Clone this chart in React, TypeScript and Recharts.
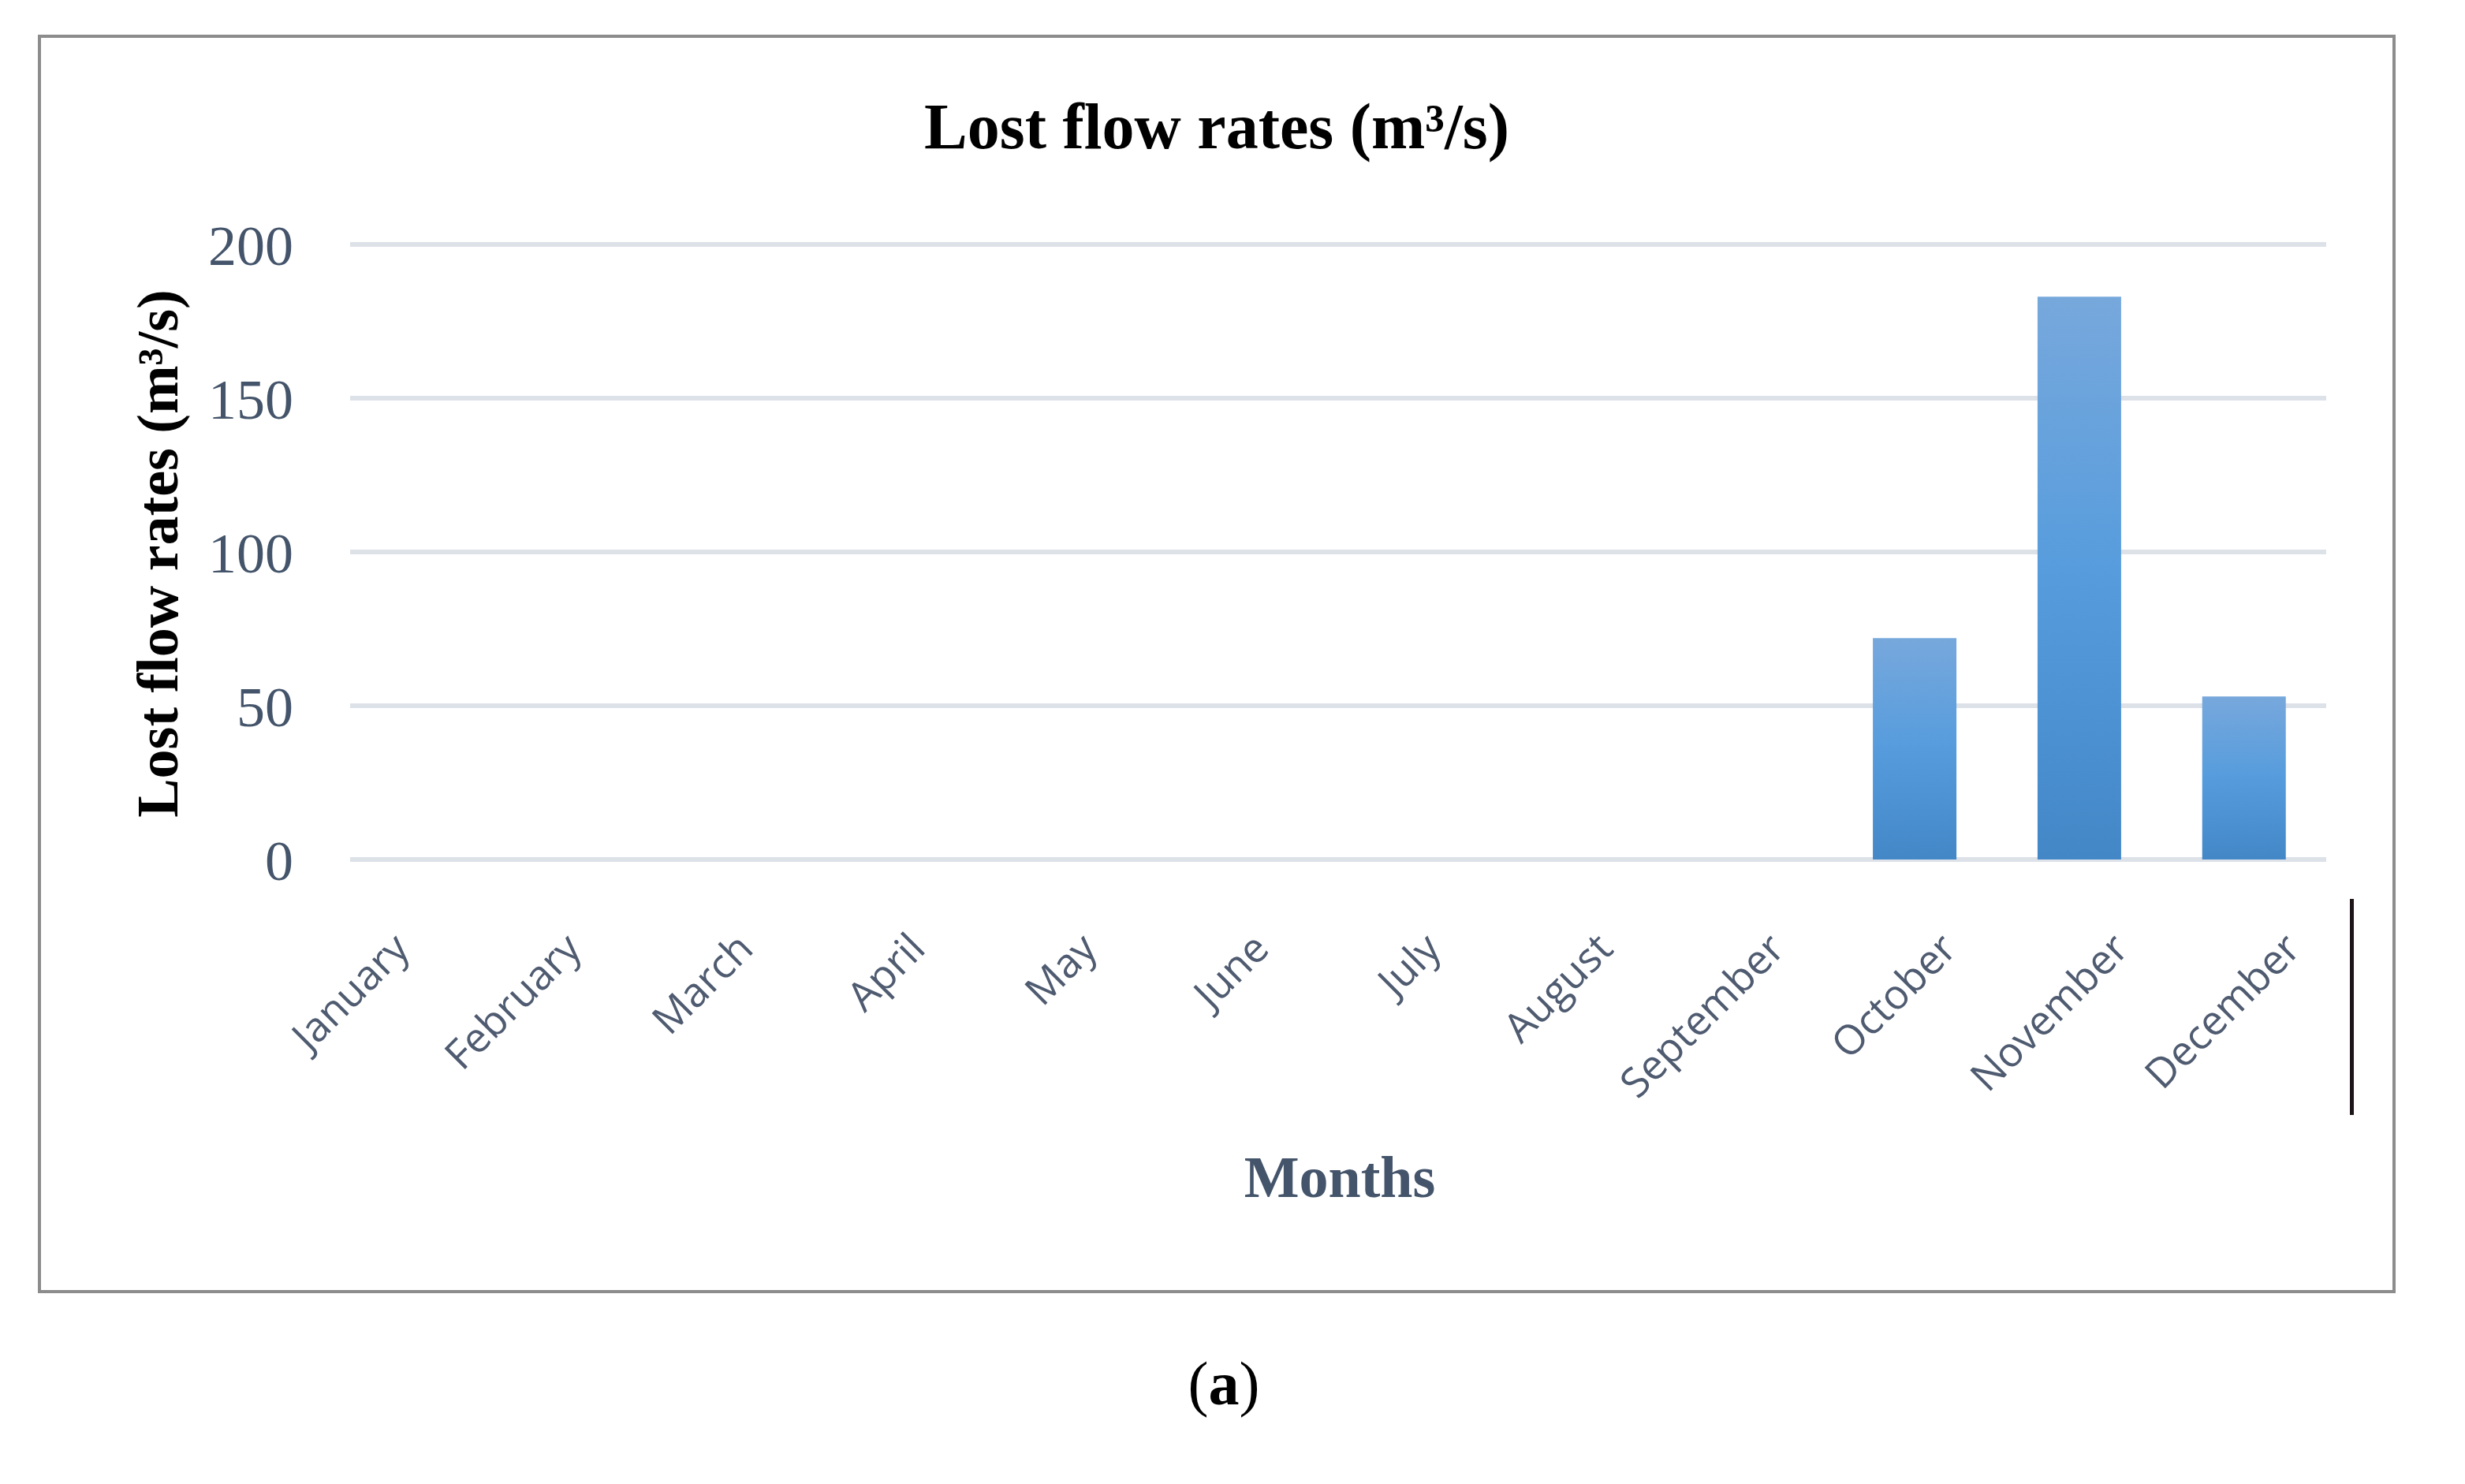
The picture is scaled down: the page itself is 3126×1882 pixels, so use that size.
import React from 'react';
import { BarChart, Bar, XAxis, YAxis, CartesianGrid } from 'recharts';

const months = [
  'January', 'February', 'March', 'April', 'May', 'June',
  'July', 'August', 'September', 'October', 'November', 'December',
];
const lostFlow = [0, 0, 0, 0, 0, 0, 0, 0, 0, 72, 183, 53];
const yTicks = [0, 50, 100, 150, 200];

const data = months.map((m, i) => ({ month: m, lost: lostFlow[i] }));

const W = 3126;
const H = 1882;
const PLOT_LEFT = 444;
const PLOT_RIGHT = 2950;
const PLOT_TOP = 310;
const PLOT_BOTTOM = 1090;
const X_AXIS_H = 320;

const serif = '"Liberation Serif", "Times New Roman", serif';
const slate = '#44546A';

// month labels in the source sit slightly spread out vs the bars
const MonthTick = (props: any) => {
  const { x, y, payload } = props;
  const mid = (PLOT_LEFT + PLOT_RIGHT) / 2;
  const tx = x + (x - mid) * 0.044 + 24;
  const ty = y + 116;
  return (
    <text
      x={tx}
      y={ty}
      transform={`rotate(-45 ${tx} ${ty})`}
      textAnchor="end"
      fontFamily='"Open Sans", sans-serif'
      fontSize={52}
      fill="#4f5b70"
    >
      {payload.value}
    </text>
  );
};

const App: React.FC = () => {
  return (
    <div style={{ position: 'absolute', left: 0, top: 0, width: W, height: H, background: '#fff' }}>
      <div
        style={{
          position: 'absolute',
          left: 48,
          top: 44,
          width: 2990,
          height: 1596,
          border: '4px solid #8c8c8c',
          boxSizing: 'border-box',
        }}
      />
      <div style={{ position: 'absolute', left: 0, top: 0 }}>
        <BarChart
          width={W}
          height={H}
          data={data}
          barCategoryGap="24.7%"
          margin={{
            top: PLOT_TOP,
            right: W - PLOT_RIGHT,
            left: 0,
            bottom: H - PLOT_BOTTOM - X_AXIS_H,
          }}
        >
          <defs>
            <linearGradient id="barFill" x1="0" y1="0" x2="0" y2="1">
              <stop offset="0%" stopColor="#77a8dc" />
              <stop offset="50%" stopColor="#569cdd" />
              <stop offset="100%" stopColor="#4387c7" />
            </linearGradient>
          </defs>
          <CartesianGrid vertical={false} stroke="#dde2e9" strokeWidth={6} />
          <XAxis
            dataKey="month"
            axisLine={false}
            tickLine={false}
            tickSize={0}
            tickMargin={0}
            height={X_AXIS_H}
            interval={0}
            tick={<MonthTick />}
          />
          <YAxis
            width={PLOT_LEFT}
            domain={[0, 200]}
            ticks={yTicks}
            axisLine={false}
            tickLine={false}
            tickSize={0}
            tickMargin={72}
            tick={{ fontFamily: serif, fontSize: 72, fill: slate }}
          />
          <Bar dataKey="lost" fill="url(#barFill)" isAnimationActive={false} />
        </BarChart>
      </div>
      <div
        style={{
          position: 'absolute',
          left: 0,
          width: 3086,
          top: 120,
          textAlign: 'center',
          fontFamily: serif,
          fontWeight: 'bold',
          fontSize: 82,
          color: '#000',
          lineHeight: 1,
        }}
      >
        Lost flow rates (m³/s)
      </div>
      <div
        style={{
          position: 'absolute',
          left: 200,
          top: 702,
          transform: 'translate(-50%, -50%) rotate(-90deg)',
          whiteSpace: 'nowrap',
          fontFamily: serif,
          fontWeight: 'bold',
          fontSize: 74,
          color: '#000',
          lineHeight: 1,
        }}
      >
        Lost flow rates (m³/s)
      </div>
      <div
        style={{
          position: 'absolute',
          left: 0,
          width: 3398,
          top: 1456,
          textAlign: 'center',
          fontFamily: serif,
          fontWeight: 'bold',
          fontSize: 74,
          color: slate,
          lineHeight: 1,
        }}
      >
        Months
      </div>
      <div
        style={{
          position: 'absolute',
          left: 2980,
          top: 1140,
          width: 5,
          height: 274,
          background: '#1c1418',
        }}
      />
      <div
        style={{
          position: 'absolute',
          left: 0,
          width: 3104,
          top: 1716,
          textAlign: 'center',
          fontFamily: serif,
          fontSize: 78,
          color: '#000',
          lineHeight: 1,
        }}
      >
        (<b>a</b>)
      </div>
    </div>
  );
};

export default App;
